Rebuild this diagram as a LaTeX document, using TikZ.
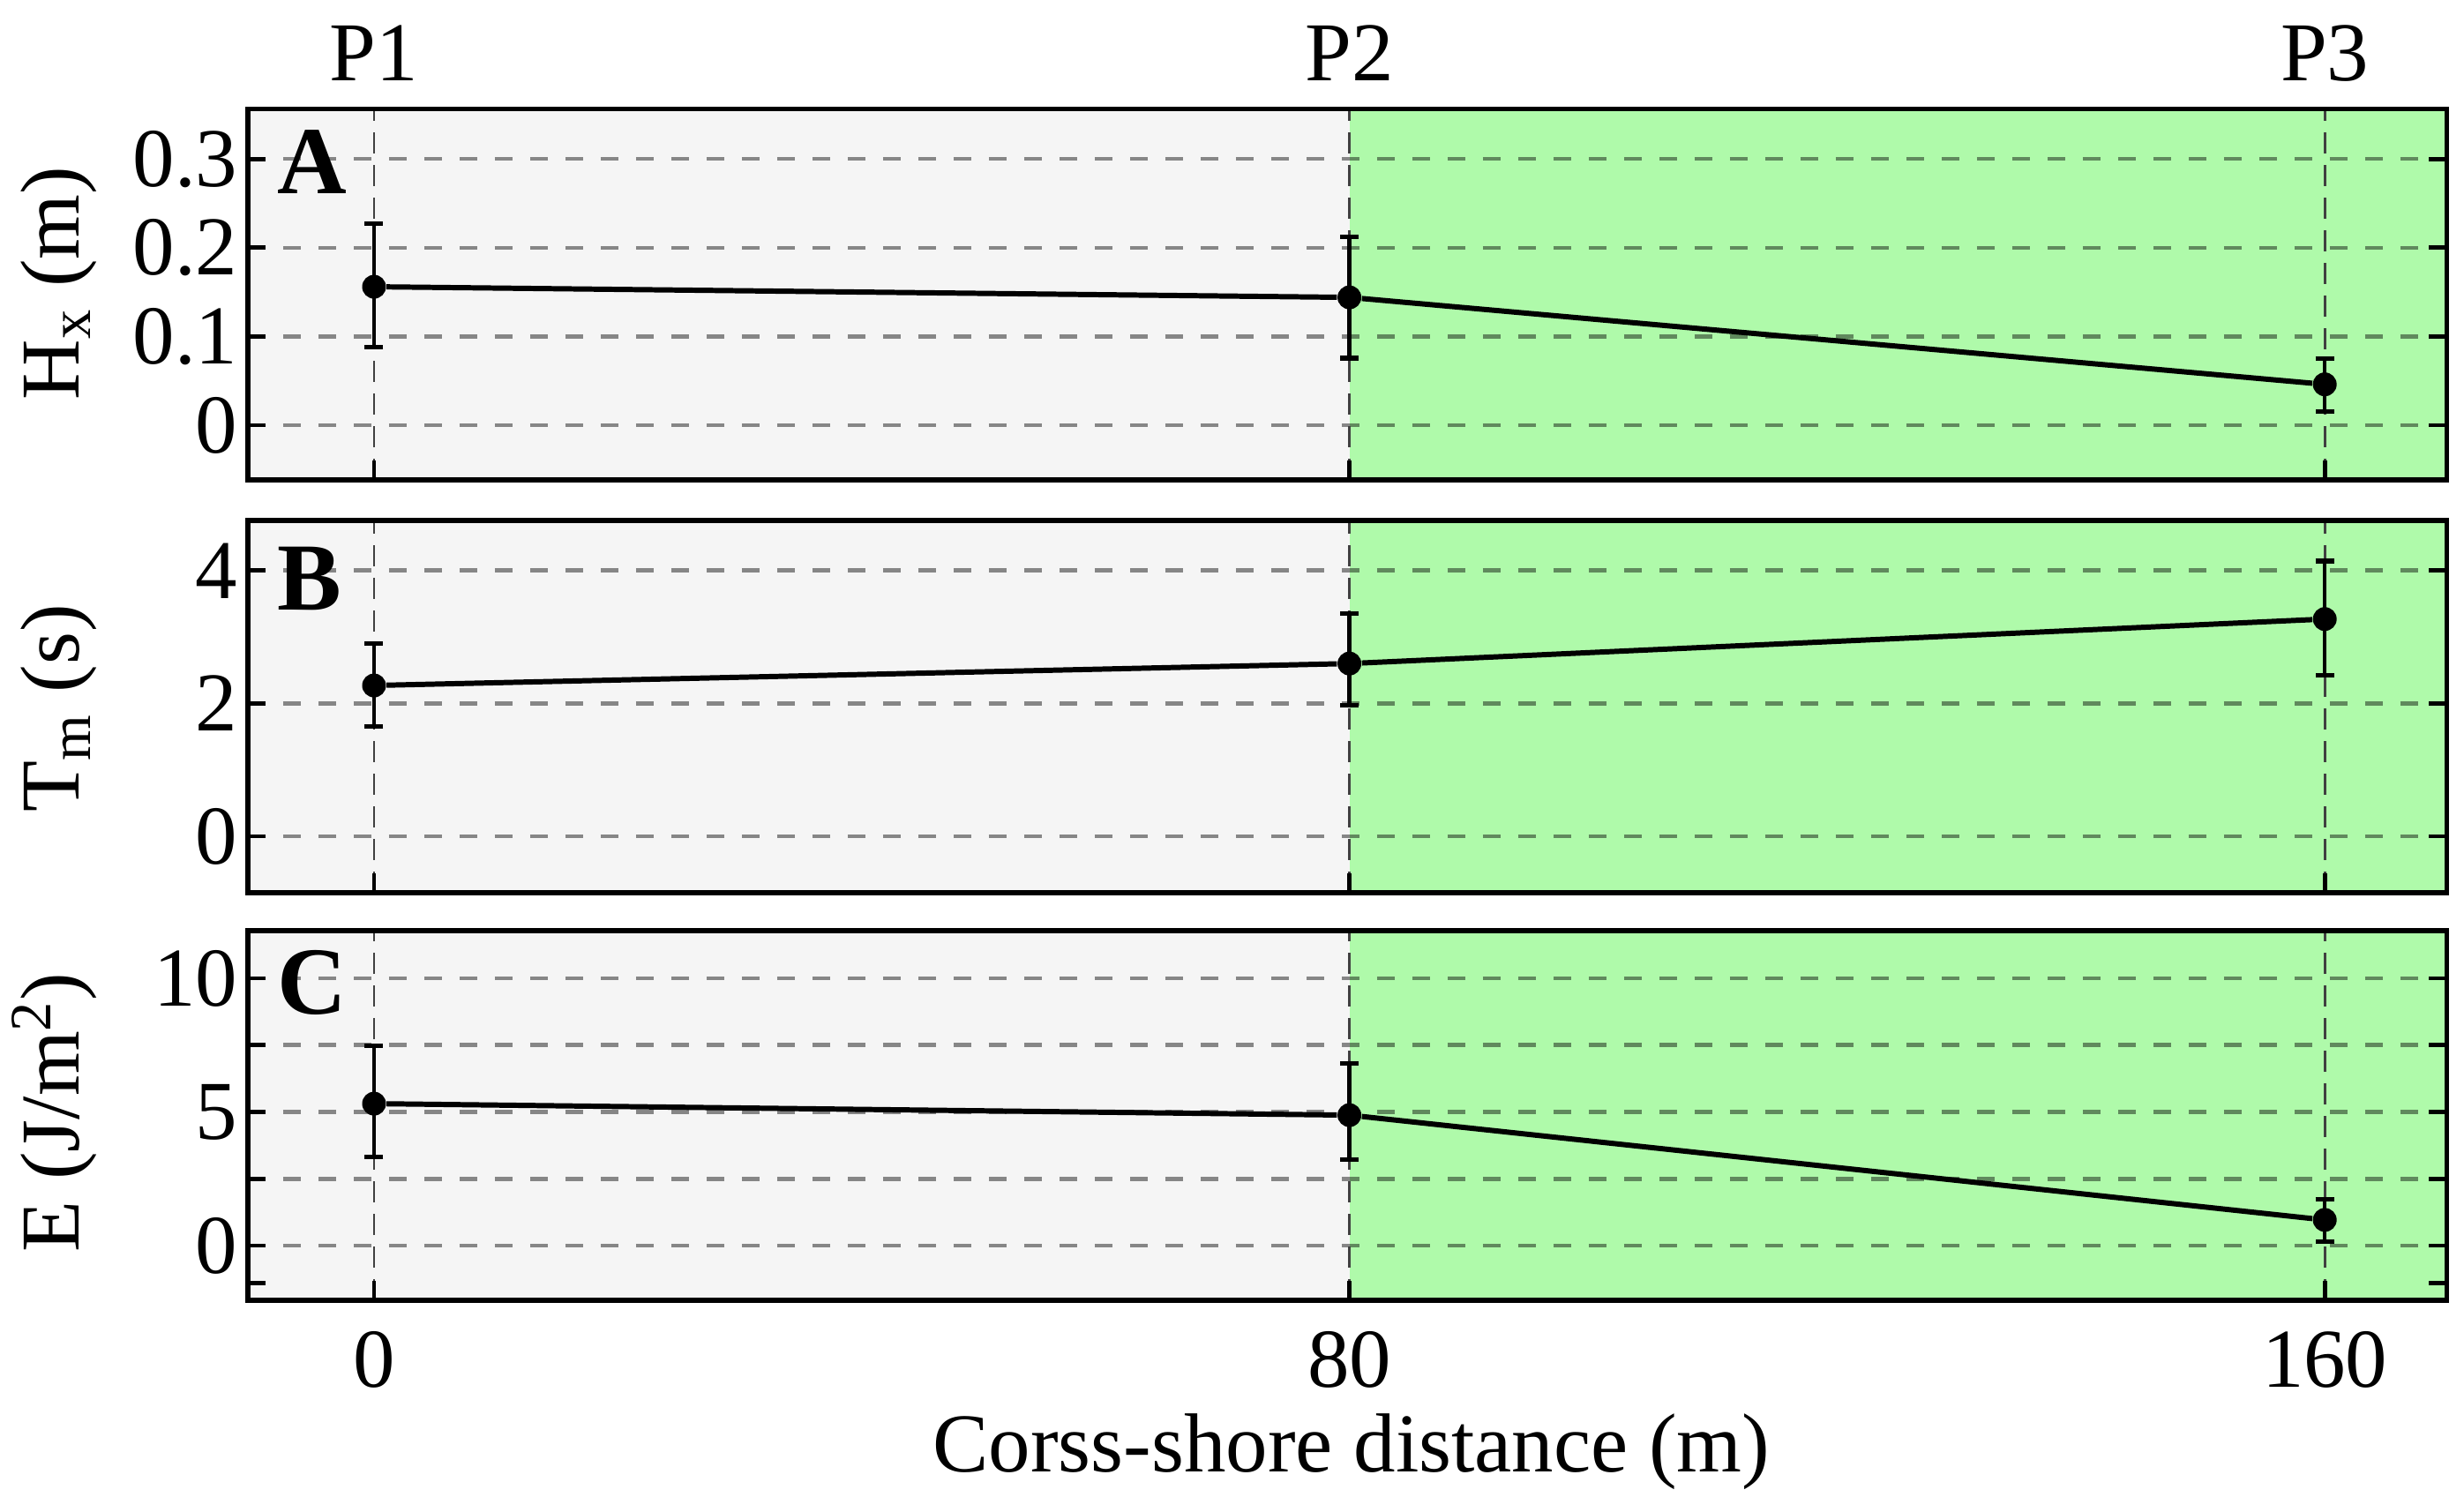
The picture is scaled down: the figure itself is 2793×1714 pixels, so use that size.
\documentclass[tikz,border=0pt]{standalone}
\usepackage{fontspec}
\setmainfont{Liberation Serif}
\usetikzlibrary{arrows.meta}
\definecolor{leftbg}{RGB}{245,245,245}
\definecolor{vegbg}{RGB}{175,250,170}
\tikzset{
  gridln/.style={line width=1.3pt, black, opacity=0.45, dash pattern=on 2mm off 2mm},
  probeln/.style={line width=0.8pt, black!75, dash pattern=on 2.4mm off 1.3mm},
  frame/.style={line width=1.5pt},
  tickln/.style={line width=1.4pt},
  errbar/.style={line width=1.2pt, {Bar[width=2.1mm,line width=1.5pt]}-{Bar[width=2.1mm,line width=1.5pt]}},
  dot/.style={circle, fill=black, inner sep=0pt, minimum size=2.7mm},
  dataln/.style={line width=1.7pt},
  lbl/.style={font=\fontsize{27}{30}\selectfont, inner sep=0pt},
  panel/.style={font=\fontsize{31}{34}\selectfont\bfseries, inner sep=0pt, anchor=west},
}

\begin{document}
\begin{tikzpicture}[x=0.1mm,y=0.1mm]
  \useasboundingbox (0,0) rectangle (2793,1714);
  \fill[white] (0,0) rectangle (2793,1714);

  \begin{scope}[xshift=42.4mm, yshift=123.2mm, x=1.382mm, y=100.6mm]
    \fill[leftbg] (-10.35,-0.0616) rectangle (80,0.356);
    \fill[vegbg] (80,-0.0616) rectangle (170,0.356);
    \foreach \v/\t in {0/0,0.1/1,0.2/2,0.3/3} {
      \draw[gridln] (-10.35,\v) -- (170,\v);
      \draw[tickln] (-10.35,\v) -- ++(2mm,0);
      \draw[tickln] (170,\v) -- ++(-2mm,0);
      \node[lbl, anchor=east, name=ya\t] at (-11.14,\v) {\v};
    }
    \foreach \p in {0,80,160} {
      \draw[probeln] (\p,-0.0616) -- (\p,0.356);
      \draw[tickln] (\p,-0.0616) -- ++(0,2.2mm);
    }
    \draw[errbar] (0,0.085) -- (0,0.23);
    \draw[errbar] (80,0.073) -- (80,0.215);
    \draw[errbar] (160,0.013) -- (160,0.078);
    \node[dot, name=a1] at (0,0.156) {};
    \node[dot, name=a2] at (80,0.144) {};
    \node[dot, name=a3] at (160,0.046) {};
    \draw[dataln] (a1) -- (a2) -- (a3);
    \draw[frame] (-10.35,-0.0616) rectangle (170,0.356);
    \node[panel, name=pa] at (-8.0,0.297) {A};
    \node[lbl, anchor=base, name=p1] at (0,0.3877) {P1};
    \node[lbl, anchor=base, name=p2] at (80,0.3877) {P2};
    \node[lbl, anchor=base, name=p3] at (160,0.3877) {P3};
  \end{scope}

  \begin{scope}[xshift=42.4mm, yshift=76.6mm, x=1.382mm, y=7.53mm]
    \fill[leftbg] (-10.35,-0.85) rectangle (80,4.754);
    \fill[vegbg] (80,-0.85) rectangle (170,4.754);
    \foreach \v in {0,2,4} {
      \draw[gridln] (-10.35,\v) -- (170,\v);
      \draw[tickln] (-10.35,\v) -- ++(2mm,0);
      \draw[tickln] (170,\v) -- ++(-2mm,0);
      \node[lbl, anchor=east, name=yb\v] at (-11.14,\v) {\v};
    }
    \foreach \p in {0,80,160} {
      \draw[probeln] (\p,-0.85) -- (\p,4.754);
      \draw[tickln] (\p,-0.85) -- ++(0,2.2mm);
    }
    \draw[errbar] (0,1.62) -- (0,2.94);
    \draw[errbar] (80,1.94) -- (80,3.39);
    \draw[errbar] (160,2.39) -- (160,4.18);
    \node[dot, name=b1] at (0,2.27) {};
    \node[dot, name=b2] at (80,2.60) {};
    \node[dot, name=b3] at (160,3.27) {};
    \draw[dataln] (b1) -- (b2) -- (b3);
    \draw[frame] (-10.35,-0.85) rectangle (170,4.754);
    \node[panel, name=pb] at (-8.0,3.88) {B};
  \end{scope}

  \begin{scope}[xshift=42.4mm, yshift=30.2mm, x=1.382mm, y=3.03mm]
    \fill[leftbg] (-10.35,-2.05) rectangle (80,11.78);
    \fill[vegbg] (80,-2.05) rectangle (170,11.78);
    \foreach \v in {0,2.5,5,7.5,10} {
      \draw[gridln] (-10.35,\v) -- (170,\v);
    }
    \foreach \v in {-1.4,0,2.5,5,7.5,10} {
      \draw[tickln] (-10.35,\v) -- ++(2mm,0);
      \draw[tickln] (170,\v) -- ++(-2mm,0);
    }
    \foreach \v in {0,5,10} {
      \node[lbl, anchor=east, name=yc\v] at (-11.14,\v) {\v};
    }
    \foreach \p in {0,80,160} {
      \draw[probeln] (\p,-2.05) -- (\p,11.78);
      \draw[tickln] (\p,-2.05) -- ++(0,2.2mm);
      \node[lbl, anchor=base, name=xc\p] at (\p,-5.31) {\p};
    }
    \draw[errbar] (0,3.23) -- (0,7.56);
    \draw[errbar] (80,3.13) -- (80,6.9);
    \draw[errbar] (160,0.07) -- (160,1.82);
    \node[dot, name=c1] at (0,5.31) {};
    \node[dot, name=c2] at (80,4.88) {};
    \node[dot, name=c3] at (160,0.96) {};
    \draw[dataln] (c1) -- (c2) -- (c3);
    \draw[frame] (-10.35,-2.05) rectangle (170,11.78);
    \node[panel, name=pc] at (-8.0,9.83) {C};
  \end{scope}

  \node[lbl, rotate=90, anchor=base, name=ha] at (89,1393) {H\textsubscript{x} (m)};
  \node[lbl, rotate=90, anchor=base, name=tb] at (89,911) {T\textsubscript{m} (s)};
  \node[lbl, rotate=90, anchor=base, name=ec] at (89,453) {E (J/m\textsuperscript{2})};
  \node[lbl, anchor=base, name=xt] at (1532,45) {Corss-shore distance (m)};
\end{tikzpicture}
\end{document}
